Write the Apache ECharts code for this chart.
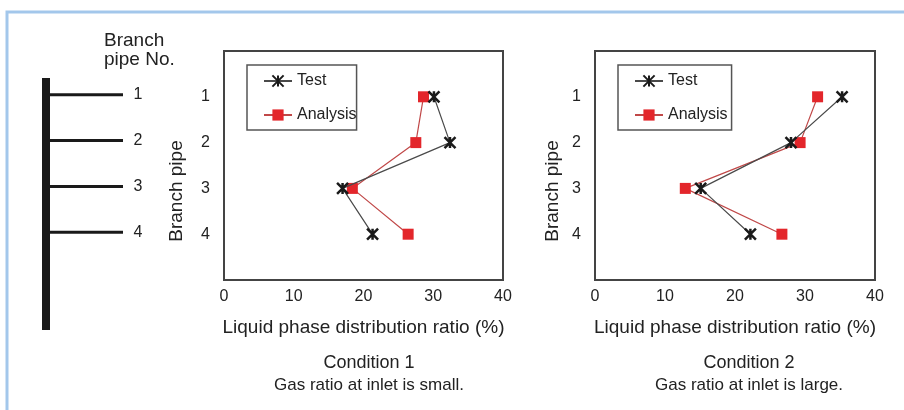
<!DOCTYPE html>
<html>
<head>
<meta charset="utf-8">
<script src="https://cdn.jsdelivr.net/npm/echarts@6/dist/echarts.min.js"></script>
<style>
  html, body { margin: 0; padding: 0; background: #fff; }
  #chart { width: 904px; height: 410px; }
</style>
</head>
<body>
<div id="chart"></div>
<script>
// branch pipe numbers (y positions) and tick labels
const branchNo = [1, 2, 3, 4];
const branchLabels = ["1", "2", "3", "4"];
const xTicks = [0, 10, 20, 30, 40];

// condition 1 : gas ratio at inlet is small
const test1 = [30.1, 32.4, 17, 21.3];
const analysis1 = [28.6, 27.5, 18.4, 26.4];
// condition 2 : gas ratio at inlet is large
const test2 = [35.3, 28, 15.1, 22.2];
const analysis2 = [31.8, 29.3, 12.9, 26.7];

const FONT = "'Liberation Sans', Arial, sans-serif";
const TXT = "#222";
const starPath = "path://M0,0L10,10M10,0L0,10M5,0L5,10";

function pairs(vals) {
  return vals.map((v, i) => [v, branchNo[i]]);
}

function xAxisOpt(idx) {
  return {
    gridIndex: idx,
    type: "value",
    min: xTicks[0],
    max: xTicks[xTicks.length - 1],
    interval: 10,
    axisLine: { show: false },
    axisTick: { show: false },
    splitLine: { show: false },
    axisLabel: { margin: 9, fontSize: 16, color: TXT, fontFamily: FONT },
    name: "Liquid phase distribution ratio (%)",
    nameLocation: "middle",
    nameGap: 38,
    nameTextStyle: { fontSize: 19, color: TXT, fontFamily: FONT },
  };
}

function yAxisOpt(idx, gap) {
  return {
    gridIndex: idx,
    type: "value",
    min: 0,
    max: 5,
    interval: 1,
    inverse: true,
    axisLine: { show: false },
    axisTick: { show: false },
    splitLine: { show: false },
    axisLabel: {
      margin: 14,
      fontSize: 16,
      color: TXT,
      fontFamily: FONT,
      formatter: (v) => branchLabels[branchNo.indexOf(v)] || "",
    },
    name: "Branch pipe",
    nameLocation: "middle",
    nameGap: gap,
    nameTextStyle: { fontSize: 19, color: TXT, fontFamily: FONT, padding: [0, 51, 0, 0] },
  };
}

function testSeries(idx, vals) {
  return {
    name: "Test",
    type: "line",
    xAxisIndex: idx,
    yAxisIndex: idx,
    data: pairs(vals),
    symbol: starPath,
    symbolSize: 11,
    lineStyle: { color: "#4a4a4a", width: 1.2 },
    itemStyle: { color: "#1a1a1a", borderColor: "#1a1a1a", borderWidth: 2.5 },
    z: 3,
  };
}

function analysisSeries(idx, vals) {
  return {
    name: "Analysis",
    type: "line",
    xAxisIndex: idx,
    yAxisIndex: idx,
    data: pairs(vals),
    symbol: "rect",
    symbolSize: 11,
    lineStyle: { color: "#c04848", width: 1.2 },
    itemStyle: { color: "#e3262b" },
    z: 2,
  };
}

function legendOpt(left, padRight) {
  return {
    left: left,
    top: 65,
    orient: "vertical",
    itemWidth: 28,
    itemHeight: 14,
    itemGap: 16,
    padding: [7, padRight, 6, 16],
    borderColor: "#555",
    borderWidth: 1.5,
    textStyle: { fontSize: 16, color: TXT, fontFamily: FONT, lineHeight: 18 },
    data: ["Test", "Analysis"],
  };
}

const chart = echarts.init(document.getElementById("chart"));

const option = {
  backgroundColor: "#fff",
  animation: false,
  title: [
    {
      text: "Condition 1",
      subtext: "Gas ratio at inlet is small.",
      left: 364,
      top: 349,
      textAlign: "center",
      itemGap: 5,
      textStyle: { fontSize: 18, fontWeight: "normal", color: TXT, fontFamily: FONT },
      subtextStyle: { fontSize: 17, color: TXT, fontFamily: FONT },
    },
    {
      text: "Condition 2",
      subtext: "Gas ratio at inlet is large.",
      left: 744,
      top: 349,
      textAlign: "center",
      itemGap: 5,
      textStyle: { fontSize: 18, fontWeight: "normal", color: TXT, fontFamily: FONT },
      subtextStyle: { fontSize: 17, color: TXT, fontFamily: FONT },
    },
  ],
  legend: [
    Object.assign(legendOpt(247, 0), { seriesIndex: [0, 1] }),
    Object.assign(legendOpt(618, 4), { seriesIndex: [2, 3] }),
  ],
  grid: [
    { left: 224, top: 51, width: 279, height: 229, show: true, borderColor: "#444", borderWidth: 2, backgroundColor: "#fff" },
    { left: 595, top: 51, width: 280, height: 229, show: true, borderColor: "#444", borderWidth: 2, backgroundColor: "#fff" },
  ],
  xAxis: [xAxisOpt(0), xAxisOpt(1)],
  yAxis: [yAxisOpt(0, 38), yAxisOpt(1, 33)],
  series: [
    testSeries(0, test1),
    analysisSeries(0, analysis1),
    testSeries(1, test2),
    analysisSeries(1, analysis2),
  ],
};

chart.setOption(option);

// pipe schematic on the left, branches aligned with branch positions
const graphics = [
  {
    type: "polyline",
    shape: { points: [[7, 410], [7, 12], [904, 12]] },
    style: { stroke: "#a3c7eb", lineWidth: 3, fill: null },
  },
  {
    type: "text",
    left: 104,
    top: 31,
    style: { text: "Branch\npipe No.", fontSize: 19, lineHeight: 19, fill: TXT, fontFamily: FONT },
  },
  {
    type: "rect",
    shape: { x: 42, y: 78, width: 8, height: 252 },
    style: { fill: "#1a1a1a" },
  },
];
branchNo.forEach((b, i) => {
  const y = chart.convertToPixel({ yAxisIndex: 0 }, b) - 2;
  graphics.push({
    type: "line",
    shape: { x1: 50, y1: y, x2: 123, y2: y },
    style: { stroke: "#1a1a1a", lineWidth: 3 },
  });
  graphics.push({
    type: "text",
    x: 138,
    y: y,
    style: { text: branchLabels[i], fontSize: 16, fill: TXT, fontFamily: FONT, align: "center", verticalAlign: "middle" },
  });
});
chart.setOption({ graphic: graphics });
</script>
</body>
</html>
